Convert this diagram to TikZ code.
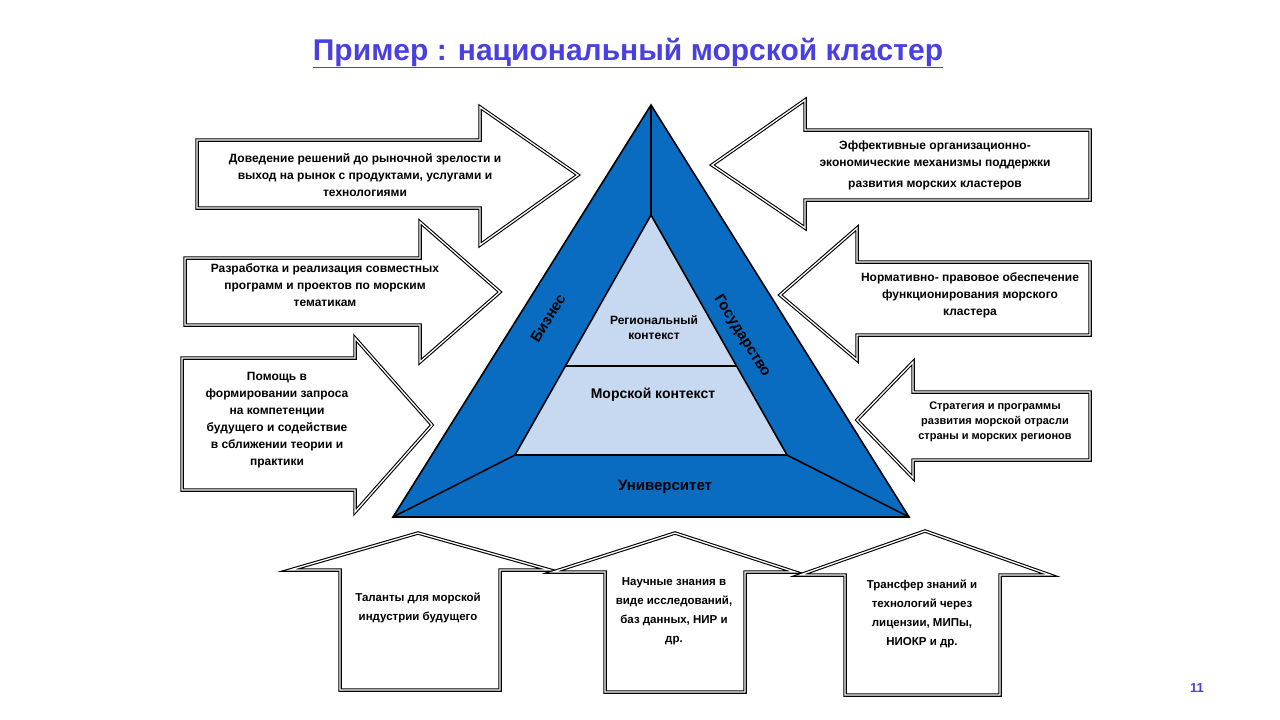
\documentclass[tikz,border=0pt]{standalone}
\usepackage{fontspec}
\setmainfont{Liberation Sans}
\usetikzlibrary{positioning,calc}
\definecolor{titleblue}{HTML}{4A3FE0}
\definecolor{triblue}{HTML}{0A6CC0}
\definecolor{trilight}{HTML}{C7D9F1}

\begin{document}
\begin{tikzpicture}[x=1pt,y=-1pt,
  arr/.style = {draw=black, double=white, double distance=1.3pt, line width=1.1pt, fill=white, line join=miter},
  txt/.style = {align=center, font=\bfseries\fontsize{12}{17}\selectfont},
  tri/.style = {draw=black, line width=1.6pt, line join=miter}]
  \useasboundingbox (0,0) rectangle (1280,720);

  % title
  \node[font=\bfseries\fontsize{30}{34}\selectfont, text=titleblue] (title) at (628,53)
    {\underline{Пример : национальный морской кластер}};

  % left arrows
  \draw[arr] (197,140) -- (480,140) -- (480,107) -- (578,175) -- (480,245) -- (480,208) -- (197,208) -- cycle;
  \draw[arr] (185,258) -- (420,258) -- (420,222) -- (500,292) -- (420,362) -- (420,325) -- (185,325) -- cycle;
  \draw[arr] (182,358) -- (355,358) -- (355,338) -- (432,425) -- (355,512) -- (355,490) -- (182,490) -- cycle;
  \node[txt] (l1) at (365,175) {Доведение решений до рыночной зрелости и\\выход на рынок с продуктами, услугами и\\технологиями};
  \node[txt] (l2) at (325,285) {Разработка и реализация совместных\\программ и проектов по морским\\тематикам};
  \node[txt] (l3) at (277,420) {Помощь в\\формировании запроса\\на компетенции\\будущего и содействие\\в сближении теории и\\практики};

  % right arrows
  \draw[arr] (1090,130) -- (805,130) -- (805,100) -- (712,165) -- (805,228) -- (805,200) -- (1090,200) -- cycle;
  \draw[arr] (1090,262) -- (857,262) -- (857,228) -- (780,295) -- (857,360) -- (857,335) -- (1090,335) -- cycle;
  \draw[arr] (1090,392) -- (913,392) -- (913,362) -- (857,420) -- (913,478) -- (913,460) -- (1090,460) -- cycle;
  \node[txt] (r1) at (935,165) {Эффективные организационно-\\экономические механизмы поддержки\\[4pt]развития морских кластеров};
  \node[txt] (r2) at (970,295) {Нормативно- правовое обеспечение\\функционирования морского\\кластера};
  \node[txt, font=\bfseries\fontsize{11}{15}\selectfont] (r3) at (995,422) {Стратегия и программы\\развития морской отрасли\\страны и морских регионов};

  % bottom arrows
  \draw[arr] (340,690) -- (340,570) -- (290,570) -- (418,533) -- (550,570) -- (500,570) -- (500,690) -- cycle;
  \draw[arr] (605,692) -- (605,572) -- (553,572) -- (675,533) -- (795,572) -- (745,572) -- (745,692) -- cycle;
  \draw[arr] (845,695) -- (845,575) -- (800,575) -- (925,531) -- (1050,575) -- (1000,575) -- (1000,695) -- cycle;
  \node[txt, font=\bfseries\fontsize{11.5}{19}\selectfont] (b1) at (418,608) {Таланты для морской\\индустрии будущего};
  \node[txt, font=\bfseries\fontsize{11.5}{19}\selectfont] (b2) at (674,611) {Научные знания в\\виде исследований,\\баз данных, НИР и\\др.};
  \node[txt, font=\bfseries\fontsize{11.5}{19}\selectfont] (b3) at (922,614) {Трансфер знаний и\\технологий через\\лицензии, МИПы,\\НИОКР и др.};

  % triangle
  \coordinate (oa) at (651,105);
  \coordinate (ol) at (393,517);
  \coordinate (or) at (909,517);
  \coordinate (ia) at (651,215);
  \coordinate (il) at (515,455);
  \coordinate (ir) at (787,455);
  \draw[tri, fill=triblue] (oa) -- (ol) -- (or) -- cycle;
  \draw[tri, fill=trilight] (ia) -- (il) -- (ir) -- cycle;
  \draw[tri] (oa) -- (ia);
  \draw[tri] (ol) -- (il);
  \draw[tri] (or) -- (ir);
  \draw[tri] ($(ia)!0.63!(il)$) -- ($(ia)!0.63!(ir)$);

  \node[font=\bfseries\fontsize{12}{15}\selectfont, align=center] (reg) at (654,328) {Региональный\\контекст};
  \node[font=\bfseries\fontsize{14}{16}\selectfont] (sea) at (653,395) {Морской контекст};
  \node[font=\bfseries\fontsize{15}{17}\selectfont] (uni) at (665,487) {Университет};
  \node[font=\bfseries\fontsize{15}{17}\selectfont, rotate=58] (biz) at (548,318) {Бизнес};
  \node[font=\bfseries\fontsize{15}{17}\selectfont, rotate=-58] (gov) at (742,336) {Государство};

  \node[font=\bfseries\fontsize{13}{15}\selectfont, text=titleblue] (page) at (1197,688) {11};
\end{tikzpicture}
\end{document}
